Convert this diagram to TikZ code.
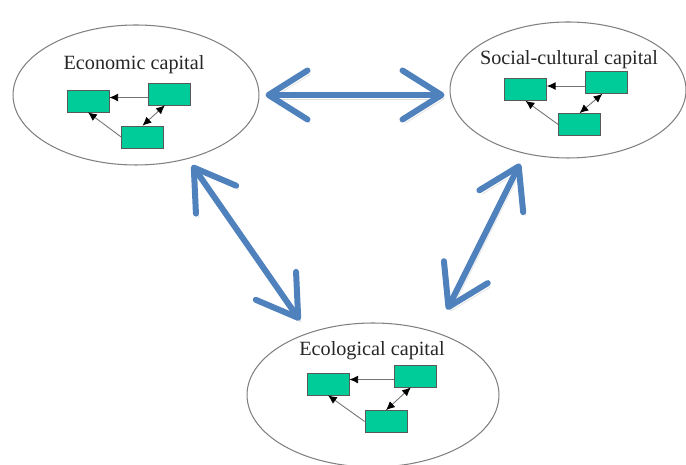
\documentclass[tikz,border=0pt]{standalone}
\usepackage{fontspec}
\setmainfont{Liberation Serif}
\usetikzlibrary{arrows.meta,shapes.geometric}
\definecolor{capblue}{RGB}{79,129,189}
\definecolor{boxgreen}{RGB}{0,204,153}

\begin{document}
\begin{tikzpicture}[
            x = 0.02cm, y = -0.02cm,
            every node/.style={text depth=0pt},
            capital/.style={ellipse, draw=black!50, line width=0.6pt, inner sep=0pt},
            captext/.style={font=\fontsize{11.5}{13}\selectfont, text=black!85, inner sep=0pt},
            box/.style={rectangle, draw=black!65, line width=0.4pt, fill=boxgreen, minimum width=0.84cm, minimum height=0.44cm, inner sep=0pt},
            link/.style={draw=black!55, line width=0.5pt, -{Latex[length=5pt, width=4.5pt, black]}},
            both/.style={draw=black!55, line width=0.5pt, {Latex[length=5pt, width=4.5pt, black]}-{Latex[length=5pt, width=4.5pt, black]}},
            line/.style={line width = .12cm, capblue, line cap=round,
                {Straight Barb[length=0.78cm, width=0.98cm, round]}-{Straight Barb[length=0.78cm, width=0.98cm, round]},
                preaction={draw=black!40, opacity=0.3, transform canvas={shift={(1.5pt,-2.2pt)}}}},
            ]
        \useasboundingbox (0, 0) rectangle (686, 465);

        \node[capital, minimum width=4.92cm, minimum height=2.8cm] (eco) at (136, 95) {};
        \node[capital, minimum width=4.72cm, minimum height=2.72cm] (soc) at (568, 90) {};
        \node[capital, minimum width=5.04cm, minimum height=2.88cm] (ecl) at (373, 395) {};

        \node[captext] (ecot) at (134, 62) {Economic capital};
        \node[captext] (soct) at (569, 57) {Social-cultural capital};
        \node[captext] (eclt) at (372, 348) {Ecological capital};

        \node[box] (e1) at (88, 101) {};
        \node[box] (e2) at (169, 94) {};
        \node[box] (e3) at (142.5, 137) {};

        \node[box] (s1) at (525.5, 89.5) {};
        \node[box] (s2) at (606.5, 82.5) {};
        \node[box] (s3) at (579.5, 124.5) {};

        \node[box] (c1) at (328, 384) {};
        \node[box] (c2) at (415, 376) {};
        \node[box] (c3) at (386, 421.5) {};

        \draw[link] ([yshift=-2pt]e2.west) -- ([yshift=-2pt]e2.west -| e1.east);
        \draw[link] (e3.west) -- (e1.south);
        \draw[both] (e3.north) -- (e2.250);

        \draw[link] ([yshift=-2pt]s2.west) -- ([yshift=-2pt]s2.west -| s1.east);
        \draw[link] (s3.west) -- (s1.south);
        \draw[both] (s3.north) -- (s2.250);

        \draw[link] ([yshift=-2pt]c2.west) -- ([yshift=-2pt]c2.west -| c1.east);
        \draw[link] (c3.west) -- (c1.south);
        \draw[both] (c3.north) -- (c2.250);

        \draw[line, shorten <=0.12cm, shorten >=0.1cm] (eco.east) -- (eco.east -| soc.west);
        \draw[line, shorten <=0.15cm, shorten >=0.3cm] (eco.-51) -- (ecl.136);
        \draw[line, shorten <=0.22cm, shorten >=0.5cm] (soc.236) -- (ecl.45);
    \end{tikzpicture}
\end{document}
